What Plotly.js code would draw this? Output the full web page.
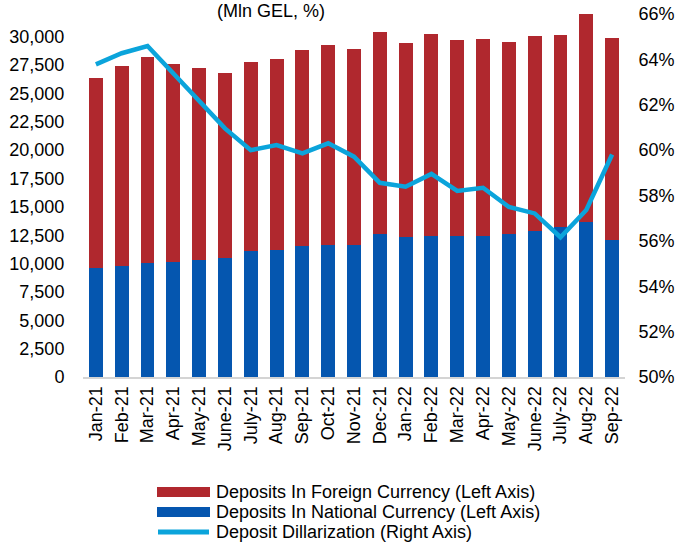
<!DOCTYPE html>
<html>
<head>
<meta charset="utf-8">
<script src="https://cdn.plot.ly/plotly-3.0.1.min.js"></script>
<style>html,body{margin:0;padding:0;background:#fff}#chart{width:678px;height:544px}</style>
</head>
<body>
<div id="chart"></div>
<script>
var months = ["Jan-21","Feb-21","Mar-21","Apr-21","May-21","June-21","July-21","Aug-21","Sep-21","Oct-21","Nov-21","Dec-21",
              "Jan-22","Feb-22","Mar-22","Apr-22","May-22","June-22","July-22","Aug-22","Sep-22"];
var nationalCurrency = [9590,9820,10030,10150,10330,10500,11150,11200,11590,11650,11680,12640,
                        12300,12470,12470,12470,12590,12910,13240,13700,12060];
var totalDeposits = [26400,27400,28240,27600,27200,26800,27800,28040,28860,29240,28900,30400,
                     29440,30270,29700,29800,29570,30100,30120,31980,29880];
var foreignCurrency = totalDeposits.map(function(t,i){return t - nationalCurrency[i];});
var dollarization = [63.78,64.27,64.59,63.36,62.15,60.96,60.0,60.22,59.86,60.3,59.71,58.56,
                     58.39,58.95,58.2,58.34,57.5,57.21,56.16,57.36,59.81];
var leftTicks = [0,2500,5000,7500,10000,12500,15000,17500,20000,22500,25000,27500,30000];
var rightTicks = [50,52,54,56,58,60,62,64,66];
var rightTickLabels = ["50%","52%","54%","56%","58%","60%","62%","64%","66%"];
var legendLabels = ["Deposits In Foreign Currency (Left Axis)","Deposits In National Currency (Left Axis)","Deposit Dillarization (Right Axis)"];
var titleText = "(Mln GEL, %)";

var RED = "#B0282E", BLUE = "#0556AF", CYAN = "#0BA4DB";
var font = {family: "Arial, 'Liberation Sans', sans-serif", size: 18, color: "#000"};

var traces = [
  {type:"bar", x: months, y: nationalCurrency, name: legendLabels[1], marker:{color: BLUE}, width: 0.54, hoverinfo:"y"},
  {type:"bar", x: months, y: foreignCurrency, name: legendLabels[0], marker:{color: RED}, width: 0.54, hoverinfo:"y"},
  {type:"scatter", mode:"lines", x: months, y: dollarization, yaxis:"y2", name: legendLabels[2],
   line:{color: CYAN, width: 4.5}}
];

// plot area px: left 83, right 625, top 14, bottom 377
var L=83, R=625, T=14, B=377, W=R-L, H=B-T;
function px(x){return (x-L)/W;}
function py(y){return (B-y)/H;}

var shapes = [
  {type:"rect", xref:"paper", yref:"paper", x0:px(157), x1:px(210), y0:py(487), y1:py(497), fillcolor:RED, line:{width:0}},
  {type:"rect", xref:"paper", yref:"paper", x0:px(157), x1:px(210), y0:py(507), y1:py(517), fillcolor:BLUE, line:{width:0}},
  {type:"line", xref:"paper", yref:"paper", x0:px(158), x1:px(209), y0:py(532), y1:py(532), line:{color:CYAN, width:5}}
];
var annotations = [
  {xref:"paper", yref:"paper", x:px(214), y:py(492), xanchor:"left", yanchor:"middle", text:legendLabels[0], showarrow:false, font:font},
  {xref:"paper", yref:"paper", x:px(214), y:py(512), xanchor:"left", yanchor:"middle", text:legendLabels[1], showarrow:false, font:font},
  {xref:"paper", yref:"paper", x:px(214), y:py(532), xanchor:"left", yanchor:"middle", text:legendLabels[2], showarrow:false, font:font},
  {xref:"paper", yref:"paper", x:px(271), y:py(0), xanchor:"center", yanchor:"top", text:titleText, showarrow:false, font:font, borderpad:0}
];

var layout = {
  width: 678, height: 544,
  margin: {l: L, r: 678-R, t: T, b: 544-B, pad: 0},
  paper_bgcolor: "#fff", plot_bgcolor: "#fff",
  barmode: "stack",
  showlegend: false,
  font: font,
  xaxis: {type:"category", range:[-0.5, 20.5], tickangle:-90, tickfont: font,
          showline:true, linecolor:"#d4d4d4", linewidth:2, ticks:"", 
          showgrid:false, zeroline:false, fixedrange:true},
  yaxis: {range:[0, 32000], tickvals: leftTicks, tickformat:",", tickfont: font, showgrid:false, zeroline:false,
          showline:false, ticks:"outside", ticklen:14, tickcolor:"rgba(0,0,0,0)"},
  yaxis2: {overlaying:"y", side:"right", range:[50, 66], tickvals: rightTicks, ticktext: rightTickLabels, tickfont: font,
           showgrid:false, zeroline:false, showline:false, ticks:"outside", ticklen:9, tickcolor:"rgba(0,0,0,0)"},
  shapes: shapes,
  annotations: annotations
};

Plotly.newPlot("chart", traces, layout, {displayModeBar:false, staticPlot:true});
</script>
</body>
</html>
